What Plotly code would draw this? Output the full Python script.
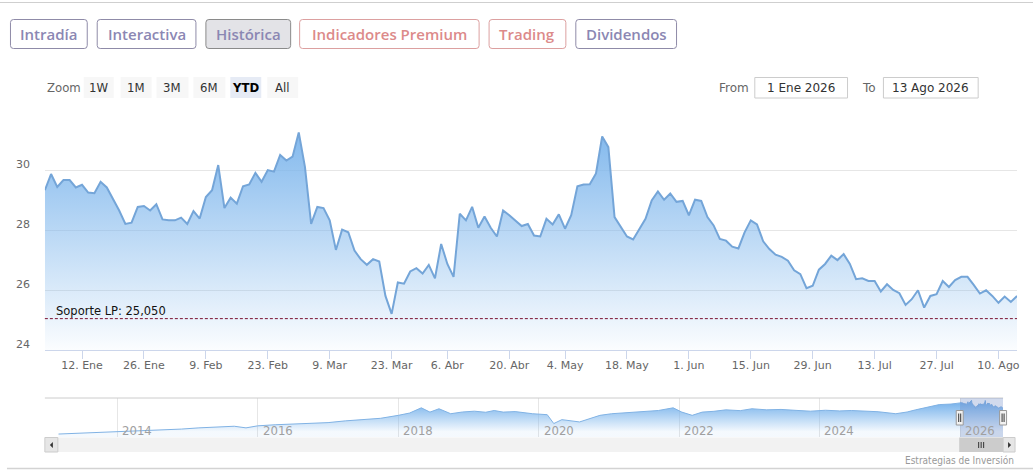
import plotly.graph_objects as go
import pandas as pd

W, H = 1036, 474

# ---------------- data ----------------
start_date = "2026-01-02"
end_date = "2026-08-13"
market_holidays = ["2026-04-03", "2026-05-01"]

prices = [
    29.35, 29.89, 29.46, 29.69, 29.69, 29.44, 29.53, 29.27, 29.25, 29.63,
    29.44, 29.07, 28.67, 28.22, 28.26, 28.79, 28.82, 28.67, 28.88, 28.37,
    28.34, 28.34, 28.43, 28.22, 28.65, 28.40, 29.12, 29.35, 30.19, 28.75,
    29.10, 28.90, 29.48, 29.54, 29.93, 29.63, 30.02, 29.97, 30.53, 30.34,
    30.47, 31.28, 30.13, 28.22, 28.79, 28.75, 28.34, 27.35, 28.03, 27.94,
    27.33, 27.04, 26.85, 27.04, 26.96, 25.81, 25.21, 26.26, 26.22, 26.63,
    26.74, 26.56, 26.85, 26.40, 27.55, 26.88, 26.45, 28.56, 28.34, 28.79,
    28.09, 28.47, 28.09, 27.80, 28.67, 28.51, 28.34, 28.15, 28.22, 27.83,
    27.80, 28.39, 28.20, 28.54, 28.06, 28.51, 29.48, 29.54, 29.55, 29.91,
    31.15, 30.79, 28.45, 28.13, 27.80, 27.70, 28.06, 28.39, 29.01, 29.31,
    29.03, 29.24, 28.96, 28.99, 28.51, 29.03, 28.99, 28.45, 28.17, 27.72,
    27.66, 27.46, 27.40, 27.94, 28.34, 28.20, 27.64, 27.38, 27.19, 27.12,
    26.99, 26.67, 26.54, 26.07, 26.15, 26.69, 26.88, 27.16, 27.01, 27.21,
    26.88, 26.37, 26.40, 26.31, 26.31, 25.96, 26.20, 26.01, 25.90, 25.51,
    25.70, 26.00, 25.42, 25.81, 25.87, 26.31, 26.11, 26.34, 26.45, 26.45,
    26.18, 25.89, 26.00, 25.81, 25.58, 25.79, 25.61, 25.81,
]

support_level = 25.05
support_label = "Soporte LP: 25,050"

x_tick_dates = ["2026-01-12", "2026-01-26", "2026-02-09", "2026-02-23",
                "2026-03-09", "2026-03-23", "2026-04-06", "2026-04-20",
                "2026-05-04", "2026-05-18", "2026-06-01", "2026-06-15",
                "2026-06-29", "2026-07-13", "2026-07-27", "2026-08-10"]
x_tick_labels = ["12. Ene", "26. Ene", "9. Feb", "23. Feb", "9. Mar", "23. Mar",
                 "6. Abr", "20. Abr", "4. May", "18. May", "1. Jun", "15. Jun",
                 "29. Jun", "13. Jul", "27. Jul", "10. Ago"]
y_ticks = [24, 26, 28, 30, 32]
y_tick_labels = ["24", "26", "28", "30", ""]

tab_labels = ["Intradía", "Interactiva", "Histórica", "Indicadores Premium", "Trading", "Dividendos"]
zoom_title = "Zoom"
zoom_labels = ["1W", "1M", "3M", "6M", "YTD", "All"]
from_label, from_value = "From", "1 Ene 2026"
to_label, to_value = "To", "13 Ago 2026"

# long-term history shown in the navigator (before 2026)
nav_dates = ["2013-03-01", "2013-06-01", "2013-09-01", "2013-12-01", "2014-03-01",
             "2014-06-01", "2014-09-01", "2014-12-01", "2015-03-01", "2015-06-01",
             "2015-09-01", "2015-11-01", "2016-01-01", "2016-04-01", "2016-07-01",
             "2016-10-01", "2017-01-01", "2017-04-01", "2017-07-01", "2017-10-01",
             "2018-01-01", "2018-03-01", "2018-05-01", "2018-06-15", "2018-08-01",
             "2018-10-01", "2018-12-01", "2019-02-01", "2019-04-01", "2019-05-15",
             "2019-07-01", "2019-09-01", "2019-12-01", "2020-02-15", "2020-03-20",
             "2020-05-01", "2020-08-01", "2020-11-15", "2021-01-15", "2021-03-15",
             "2021-05-15", "2021-07-15", "2021-09-15", "2021-12-01", "2022-01-15",
             "2022-03-10", "2022-05-01", "2022-07-01", "2022-09-01", "2022-11-15",
             "2023-01-15", "2023-04-01", "2023-06-15", "2023-09-01", "2023-11-15",
             "2024-02-01", "2024-04-15", "2024-06-15", "2024-09-01", "2024-11-01",
             "2025-02-01", "2025-04-01", "2025-05-15", "2025-07-15", "2025-09-15",
             "2025-11-15", "2025-12-30"]
nav_values = [6.2, 6.7, 7.2, 7.8, 8.2,
              8.8, 9.4, 9.9, 10.8, 11.5,
              12.0, 10.8, 12.3, 13.1, 13.6,
              14.1, 14.7, 16.0, 16.9, 17.9,
              20.1, 21.8, 25.7, 22.5, 25.0,
              21.3, 22.6, 23.2, 22.4, 23.7,
              22.5, 22.9, 21.3, 20.6, 14.0,
              16.9, 15.2, 20.1, 21.3, 22.0,
              22.5, 22.9, 23.7, 25.7, 22.5,
              20.1, 22.5, 23.1, 24.2, 23.6,
              25.0, 24.2, 24.5, 23.8, 23.2,
              23.9, 23.4, 23.7, 23.1, 22.8,
              21.3, 22.6, 24.2, 26.1, 28.1,
              28.5, 29.0]
nav_year_labels = ["2014", "2016", "2018", "2020", "2022", "2024", "2026"]
credit_text = "Estrategias de Inversión"

# ---------------- helpers ----------------
dates = pd.bdate_range(start_date, end_date)
dates = dates[~dates.isin(pd.to_datetime(market_holidays))]


def px(x):
    return x / W


def py(y):
    return 1 - y / H


def rrect(x0, y0, x1, y1, r):
    rx, ry = r / W, r / H
    X0, X1, Y0, Y1 = px(x0), px(x1), py(y0), py(y1)
    return (f"M {X0+rx},{Y0} L {X1-rx},{Y0} Q {X1},{Y0} {X1},{Y0-ry} "
            f"L {X1},{Y1+ry} Q {X1},{Y1} {X1-rx},{Y1} L {X0+rx},{Y1} "
            f"Q {X0},{Y1} {X0},{Y1+ry} L {X0},{Y0-ry} Q {X0},{Y0} {X0+rx},{Y0} Z")


shapes = []
annotations = []

PLOT_L, PLOT_R, PLOT_T, PLOT_B = 45, 1020, 111, 350
NAV_L, NAV_R, NAV_T, NAV_B = 45, 1006, 398, 437

AXIS_FONT = "DejaVu Sans, Verdana, sans-serif"
NARROW_FONT = "Liberation Sans Narrow, DejaVu Sans Condensed, Arial Narrow, sans-serif"
TAB_FONT = "Open Sans, Lato, sans-serif"

# ---------------- traces ----------------
fig = go.Figure()
fig.add_trace(go.Scatter(
    x=dates, y=prices, mode="lines",
    line=dict(color="#74a5d8", width=2),
    fill="tozeroy",
    fillgradient=dict(type="vertical",
                      colorscale=[[0, "rgba(124,181,236,0.03)"], [1, "rgba(124,181,236,0.95)"]],
                      start=24, stop=31.3),
    hoverinfo="skip", xaxis="x", yaxis="y"))

nav_x = list(pd.to_datetime(nav_dates)) + list(dates)
nav_y = nav_values + prices
fig.add_trace(go.Scatter(
    x=nav_x, y=nav_y, mode="lines",
    line=dict(color="#80b2e4", width=1),
    fill="tozeroy",
    fillgradient=dict(type="vertical",
                      colorscale=[[0, "rgba(124,181,236,0.08)"], [1, "rgba(124,181,236,1)"]],
                      start=8, stop=29),
    hoverinfo="skip", xaxis="x2", yaxis="y2"))

# ---------------- top lines ----------------
shapes.append(dict(type="line", xref="paper", yref="paper", x0=0, x1=1, y0=py(2.5), y1=py(2.5),
                   line=dict(color="#cfcfcf", width=1)))
shapes.append(dict(type="line", xref="paper", yref="paper", x0=px(7), x1=1, y0=py(468.5), y1=py(468.5),
                   line=dict(color="#d3d3d3", width=1.5)))

# ---------------- tabs ----------------
tab_boxes = [(10, 88), (97, 197), (206, 292), (300, 481), (490, 568), (577, 679)]
tab_text_colors = ["#8b87b3", "#8b87b3", "#8b87b3", "#dc8a8a", "#dc8a8a", "#8b87b3"]
tab_border_colors = ["#8f8ba8", "#8f8ba8", "#8a8a8a", "#dca0a0", "#dca0a0", "#8f8ba8"]
tab_fill_colors = ["white", "white", "#e3e3e7", "white", "white", "white"]
for lab, (x0, x1), tc, bc, fc in zip(tab_labels, tab_boxes, tab_text_colors, tab_border_colors, tab_fill_colors):
    shapes.append(dict(type="path", xref="paper", yref="paper", path=rrect(x0 + 0.5, 19.5, x1 - 0.5, 48.5, 3),
                       fillcolor=fc, line=dict(color=bc, width=1)))
    annotations.append(dict(xref="paper", yref="paper", x=px((x0 + x1) / 2), y=py(34),
                            text=lab, showarrow=False, xanchor="center", yanchor="middle",
                            font=dict(family=TAB_FONT, size=15, color=tc, weight=600)))

# ---------------- range selector ----------------
annotations.append(dict(xref="paper", yref="paper", x=px(45), y=py(87.5), text=zoom_title,
                        showarrow=False, xanchor="left", yanchor="middle",
                        font=dict(family=NARROW_FONT, size=13, color="#666666")))
zoom_boxes = [(84, 114), (121, 152), (157, 189), (194, 226), (231, 262), (268, 299)]
for lab, (x0, x1) in zip(zoom_labels, zoom_boxes):
    sel = lab == "YTD"
    shapes.append(dict(type="rect", xref="paper", yref="paper", x0=px(x0), x1=px(x1), y0=py(77), y1=py(98),
                       fillcolor="#e6ebf5" if sel else "#f7f7f7", line=dict(width=0)))
    annotations.append(dict(xref="paper", yref="paper", x=px((x0 + x1) / 2), y=py(87.5),
                            text=f"<b>{lab}</b>" if sel else lab, showarrow=False,
                            xanchor="center", yanchor="middle",
                            font=dict(family=NARROW_FONT, size=13, color="#000000" if sel else "#333333")))

annotations.append(dict(xref="paper", yref="paper", x=px(719), y=py(87.5), text=from_label,
                        showarrow=False, xanchor="left", yanchor="middle",
                        font=dict(family=AXIS_FONT, size=12, color="#666666")))
annotations.append(dict(xref="paper", yref="paper", x=px(862), y=py(87.5), text=to_label,
                        showarrow=False, xanchor="left", yanchor="middle",
                        font=dict(family=AXIS_FONT, size=12, color="#666666")))
for (x0, x1), val in [((757, 850), from_value), ((886, 981), to_value)]:
    shapes.append(dict(type="rect", xref="paper", yref="paper", x0=px(x0), x1=px(x1), y0=py(77.5), y1=py(98),
                       fillcolor="white", line=dict(color="#cccccc", width=1)))
    annotations.append(dict(xref="paper", yref="paper", x=px((x0 + x1) / 2), y=py(87.5), text=val,
                            showarrow=False, xanchor="center", yanchor="middle",
                            font=dict(family=AXIS_FONT, size=12, color="#333333")))

# ---------------- y labels ----------------
for v, lab in zip(y_ticks, y_tick_labels):
    if lab:
        annotations.append(dict(xref="paper", yref="y", x=px(32), y=v, text=lab, showarrow=False,
                                xanchor="right", yanchor="middle", yshift=6,
                                font=dict(family=AXIS_FONT, size=11, color="#666666")))

# ---------------- support line ----------------
shapes.append(dict(type="line", xref="paper", yref="y", x0=px(PLOT_L), x1=px(PLOT_R),
                   y0=support_level, y1=support_level,
                   line=dict(color="#7a1030", width=1, dash="3px,2px")))
annotations.append(dict(xref="paper", yref="y", x=px(54), y=support_level, text=support_label,
                        showarrow=False, xanchor="left", yanchor="bottom", yshift=-1,
                        font=dict(family=AXIS_FONT, size=11.5, color="#111111")))

# ---------------- navigator decorations ----------------
shapes.append(dict(type="line", xref="paper", yref="paper", x0=px(NAV_L), x1=px(NAV_R),
                   y0=py(NAV_T), y1=py(NAV_T), line=dict(color="#cccccc", width=1)))
shapes.append(dict(type="rect", xref="x2", yref="paper", x0=dates[0], x1=dates[-1],
                   y0=py(NAV_B), y1=py(NAV_T), fillcolor="rgba(102,133,194,0.3)", line=dict(width=0)))
for yr in nav_year_labels:
    annotations.append(dict(xref="x2", yref="paper", x=f"{yr}-01-01", y=py(430.5), text=yr,
                            showarrow=False, xanchor="left", yanchor="middle", xshift=3,
                            font=dict(family=NARROW_FONT, size=13, color="#a0a0a0")))

# scrollbar
shapes.append(dict(type="rect", xref="paper", yref="paper", x0=px(45), x1=px(1018), y0=py(452), y1=py(437.5),
                   fillcolor="#f2f2f2", line=dict(width=0)))
shapes.append(dict(type="rect", xref="paper", yref="paper", x0=px(45), x1=px(58), y0=py(452), y1=py(437.5),
                   fillcolor="#e6e6e6", line=dict(color="#cccccc", width=1)))
shapes.append(dict(type="rect", xref="paper", yref="paper", x0=px(1006), x1=px(1018), y0=py(452), y1=py(437.5),
                   fillcolor="#e6e6e6", line=dict(color="#cccccc", width=1)))
shapes.append(dict(type="rect", xref="paper", yref="paper", x0=px(962), x1=px(1006), y0=py(452), y1=py(437.5),
                   fillcolor="#cccccc", line=dict(width=0)))
shapes.append(dict(type="path", xref="paper", yref="paper",
                   path=f"M {px(53)},{py(442)} L {px(53)},{py(448)} L {px(50)},{py(445)} Z",
                   fillcolor="#333333", line=dict(width=0)))
shapes.append(dict(type="path", xref="paper", yref="paper",
                   path=f"M {px(1011)},{py(442)} L {px(1011)},{py(448)} L {px(1014)},{py(445)} Z",
                   fillcolor="#333333", line=dict(width=0)))
for gx in (981.5, 984, 986.5):
    shapes.append(dict(type="line", xref="paper", yref="paper", x0=px(gx), x1=px(gx), y0=py(442), y1=py(448),
                       line=dict(color="#333333", width=1)))

# handles
for hx in (962.5, 1006):
    shapes.append(dict(type="rect", xref="paper", yref="paper", x0=px(hx - 3.5), x1=px(hx + 3.5),
                       y0=py(425), y1=py(410.5), fillcolor="#f2f2f2", line=dict(color="#999999", width=1)))
    for d in (-1, 1):
        shapes.append(dict(type="line", xref="paper", yref="paper", x0=px(hx + d), x1=px(hx + d),
                           y0=py(413.5), y1=py(422), line=dict(color="#333333", width=1)))

annotations.append(dict(xref="paper", yref="paper", x=px(1019), y=py(460.5), text=credit_text,
                        showarrow=False, xanchor="right", yanchor="middle",
                        font=dict(family=NARROW_FONT, size=10, color="#999999")))

# ---------------- layout ----------------
fig.update_layout(
    width=W, height=H,
    margin=dict(l=0, r=0, t=0, b=0, pad=0),
    paper_bgcolor="white", plot_bgcolor="white",
    showlegend=False,
    hovermode=False,
    xaxis=dict(domain=[px(PLOT_L), px(PLOT_R)], anchor="y", type="date",
               range=[dates[0], dates[-1]],
               rangebreaks=[dict(bounds=["sat", "mon"]), dict(values=market_holidays)],
               tickmode="array", tickvals=x_tick_dates, ticktext=x_tick_labels,
               ticks="outside", ticklen=8, tickcolor="#ccd6eb", tickwidth=1,
               ticklabelstandoff=-3,
               showline=True, linecolor="#ccd6eb", linewidth=1,
               showgrid=False, zeroline=False, fixedrange=True,
               tickfont=dict(family=AXIS_FONT, size=11, color="#666666")),
    yaxis=dict(domain=[py(PLOT_B), py(PLOT_T)], anchor="x", range=[24, 32],
               tickmode="array", tickvals=y_ticks, showticklabels=False,
               showgrid=True, gridcolor="#e6e6e6", gridwidth=1,
               zeroline=False, showline=False, ticks="", fixedrange=True),
    xaxis2=dict(domain=[px(NAV_L), px(NAV_R)], anchor="y2", type="date",
                range=["2012-12-20", end_date],
                tick0="2014-01-01", dtick="M24", showticklabels=False, ticks="",
                showgrid=True, gridcolor="#e6e6e6", zeroline=False, showline=False, fixedrange=True),
    yaxis2=dict(domain=[py(NAV_B), py(NAV_T)], anchor="x2", range=[4, 33],
                showticklabels=False, showgrid=False, zeroline=False, showline=False, ticks="",
                fixedrange=True),
    shapes=shapes,
    annotations=annotations,
)

fig.write_html("out.html", config=dict(displayModeBar=False),
               post_script="document.body.style.margin='0';document.documentElement.style.overflow='hidden';")
